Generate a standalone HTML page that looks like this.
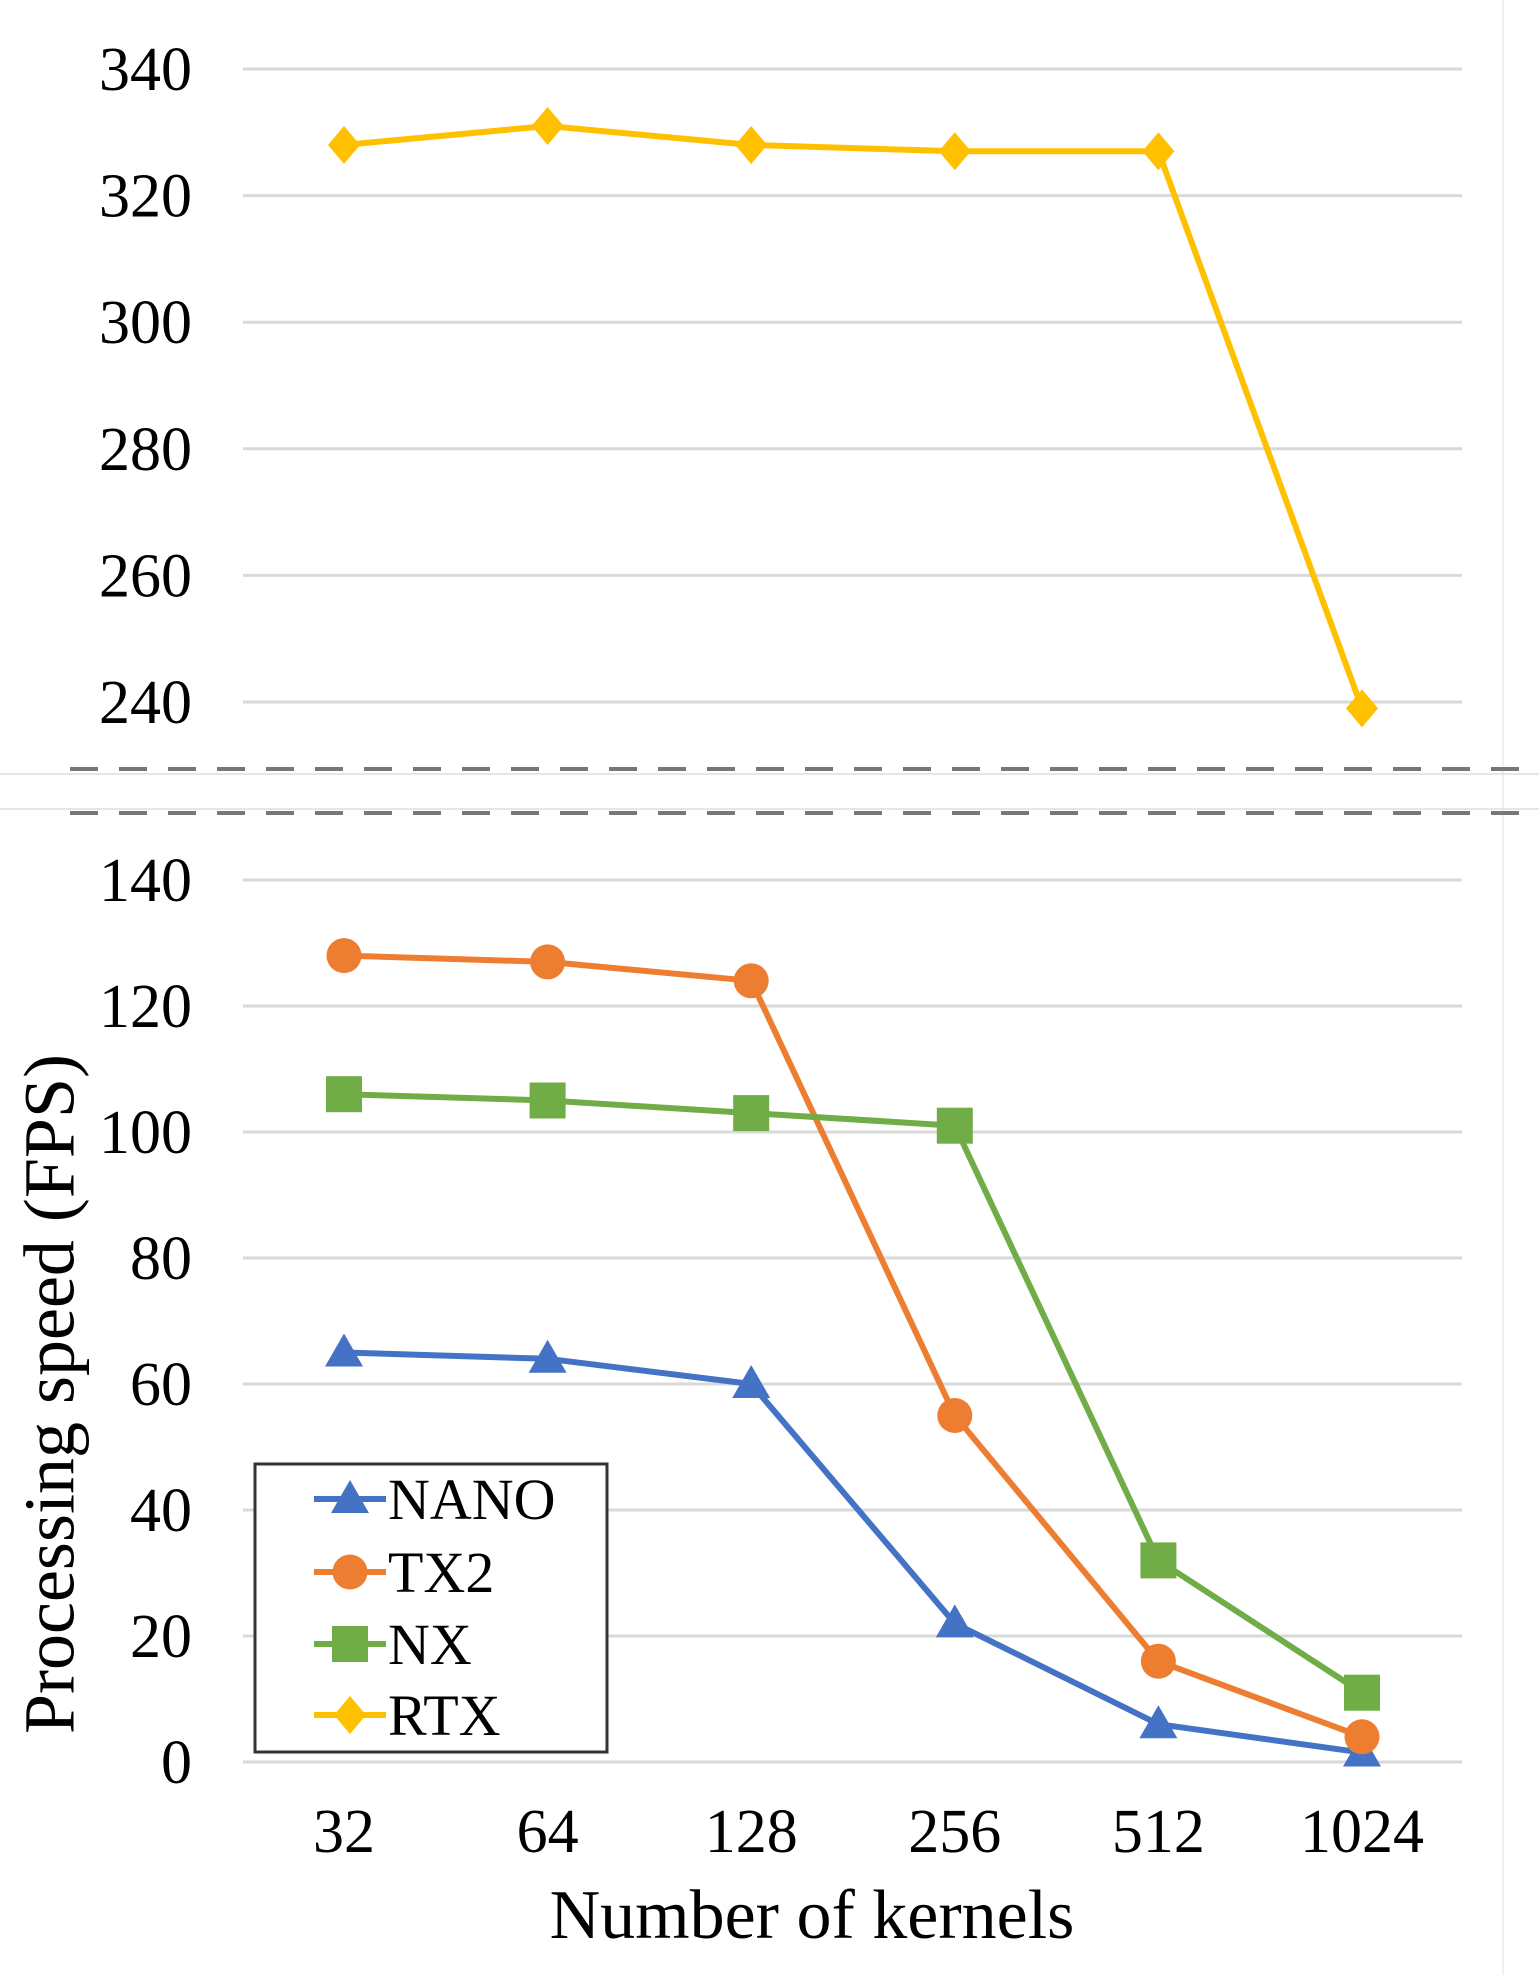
<!DOCTYPE html>
<html><head><meta charset="utf-8"><style>
html,body{margin:0;padding:0;background:#fff;}
svg{display:block;font-family:"Liberation Serif",serif;}
</style></head><body>
<svg id="chart" width="1539" height="1975" viewBox="0 0 1539 1975" xmlns="http://www.w3.org/2000/svg">
<line x1="1503" y1="0" x2="1503" y2="1975" stroke="#f0f0f0" stroke-width="2"/>
<line x1="0" y1="774" x2="1539" y2="774" stroke="#ddd" stroke-width="1.5"/>
<line x1="0" y1="809" x2="1539" y2="809" stroke="#ddd" stroke-width="1.5"/>
<line x1="70" y1="769" x2="1539" y2="769" stroke="#777" stroke-width="4" stroke-dasharray="28 21"/>
<line x1="70" y1="813" x2="1539" y2="813" stroke="#777" stroke-width="4" stroke-dasharray="28 21"/>
<g id="grid"></g>
<g id="series"></g>
<text x="57" y="1394" font-size="72" text-anchor="middle" transform="rotate(-90 57 1394)" dominant-baseline="middle">Processing speed (FPS)</text>
<text x="812" y="1938" font-size="70" text-anchor="middle">Number of kernels</text>
<g>
<rect x="255" y="1464" width="352" height="288" fill="#fff" stroke="#333" stroke-width="3"/>
<g id="legend"></g>
</g>
</svg>
<script>
const categories = ["32","64","128","256","512","1024"];
const upperTicks = [240,260,280,300,320,340];
const lowerTicks = [0,20,40,60,80,100,120,140];
const seriesNames = ["NANO","TX2","NX","RTX"];
const nanoValues = [65,64,60,22,6,1.5];
const tx2Values = [128,127,124,55,16,4];
const nxValues = [106,105,103,101,32,11];
const rtxValues = [328,331,328,327,327,239];

const NS="http://www.w3.org/2000/svg";
const grid=document.getElementById('grid');
const ser=document.getElementById('series');
const leg=document.getElementById('legend');
function xPos(i){return 344+i*203.6;}
function yUpper(v){return 69+(340-v)*6.33;}
function yLower(v){return 1762-v*6.3;}
function mk(tag,attrs,parent){const e=document.createElementNS(NS,tag);for(const k in attrs)e.setAttribute(k,attrs[k]);parent.appendChild(e);return e;}

upperTicks.forEach(t=>{
  const y=yUpper(t);
  const l=mk('line',{x1:243,x2:1462,y1:y,y2:y,stroke:'#d9d9d9','stroke-width':3},grid);
  
  
  const tx=mk('text',{x:192,y:y+21,'font-size':62,'text-anchor':'end'},grid);
  tx.textContent=t;
  
  
});
lowerTicks.forEach(t=>{
  const y=yLower(t);
  const l=mk('line',{x1:243,x2:1462,y1:y,y2:y,stroke:'#d9d9d9','stroke-width':3},grid);
  
  
  const tx=mk('text',{x:192,y:y+21,'font-size':62,'text-anchor':'end'},grid);
  tx.textContent=t;
  
  
});
categories.forEach((c,i)=>{
  const tx=mk('text',{x:xPos(i),y:1852,'font-size':62,'text-anchor':'middle'},grid);
  tx.textContent=c;
  
  
});

function marker(type,x,y,color,parent){
  let e;
  if(type==='tri') e=mk('polygon',{points:`${x},${y-19} ${x-19},${y+14} ${x+19},${y+14}`,fill:color},parent);
  else if(type==='circle') e=mk('circle',{cx:x,cy:y,r:17.5,fill:color},parent);
  else if(type==='square') e=mk('rect',{x:x-18,y:y-18,width:36,height:36,fill:color},parent);
  else e=mk('polygon',{points:`${x},${y-19} ${x+16},${y} ${x},${y+19} ${x-16},${y}`,fill:color},parent);
  return e;
}
const defs=[
  {name:'NANO',vals:nanoValues,color:'#4472C4',m:'tri',scale:yLower},
  {name:'TX2',vals:tx2Values,color:'#ED7D31',m:'circle',scale:yLower},
  {name:'NX',vals:nxValues,color:'#70AD47',m:'square',scale:yLower},
  {name:'RTX',vals:rtxValues,color:'#FFC000',m:'diamond',scale:yUpper}
];
defs.forEach(d=>{
  const g=mk('g',{},ser);
  
  
  const pts=d.vals.map((v,i)=>xPos(i)+','+d.scale(v)).join(' ');
  const pl=mk('polyline',{points:pts,fill:'none',stroke:d.color,'stroke-width':6,'stroke-linejoin':'round'},g);
  
  
  d.vals.forEach((v,i)=>{
    const m=marker(d.m,xPos(i),d.scale(v),d.color,g);
    
    
  });
});
const legY=[1499,1572,1644,1715];
defs.forEach((d,i)=>{
  const g=mk('g',{},leg);
  
  
  mk('line',{x1:314,x2:386,y1:legY[i],y2:legY[i],stroke:d.color,'stroke-width':6},g);
  marker(d.m,350,legY[i],d.color,g);
  const t=mk('text',{x:388,y:legY[i]+20,'font-size':58},g);
  t.textContent=seriesNames[i];
});
</script>
</body></html>
